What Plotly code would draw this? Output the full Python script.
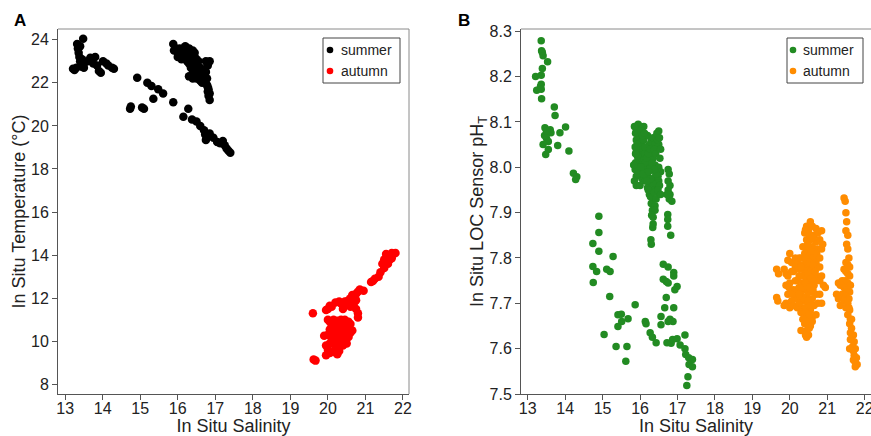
import plotly.graph_objects as go

# ---------------- Panel A: salinity vs temperature ----------------
a_summer_sal = [13.48, 13.32, 13.34, 13.36, 13.38, 13.40, 13.40, 13.42, 13.45, 13.45, 13.50, 13.50,
                13.21, 13.25, 13.30, 13.60, 13.67, 13.70, 13.80, 13.75, 13.85, 13.90, 13.95, 14.01,
                14.10, 14.15, 14.25, 14.30,
                15.88, 15.95, 15.90, 16.00, 16.05, 16.10, 16.15, 16.20, 16.25, 16.30, 16.35, 16.40,
                16.20, 16.25, 16.30, 16.35, 16.40, 16.45, 16.50, 16.55, 16.60, 16.65, 16.50, 16.45,
                16.55, 16.60, 16.40, 16.30, 16.70, 16.75, 16.80, 16.85, 16.75, 16.80, 16.80, 16.82,
                16.85, 16.78, 16.85, 16.10, 16.00,
                16.05, 16.10, 16.20, 16.30, 16.35, 16.40, 16.45, 16.50, 16.55, 16.60, 16.65, 16.40,
                16.50, 16.60, 16.00, 16.30, 16.45, 16.50, 16.70, 16.78, 16.82,
                14.92, 15.19, 15.30, 15.48, 15.61, 15.35, 14.73, 14.75, 15.05, 15.10, 15.88, 16.28,
                16.15, 16.38, 16.50, 16.60, 16.70, 16.73, 16.80, 16.95, 17.13, 17.25, 17.40, 17.30,
                17.20, 16.75, 16.85, 17.05, 17.35]
a_summer_temp = [24.05, 23.80, 23.60, 23.40, 23.20, 23.70, 23.00, 22.85, 23.10, 22.75, 22.70, 22.90,
                 22.65, 22.60, 22.70, 23.00, 23.16, 23.10, 23.20, 22.90, 22.80, 22.55, 22.47, 23.00,
                 22.90, 22.80, 22.70, 22.65,
                 23.80, 23.60, 23.50, 23.40, 23.30, 23.50, 23.60, 23.70, 23.60, 23.50, 23.40, 23.50,
                 23.20, 23.00, 22.90, 22.70, 22.60, 22.50, 22.40, 22.30, 22.10, 22.00, 22.80, 23.20,
                 23.00, 22.70, 22.20, 22.30, 22.30, 22.50, 22.80, 23.00, 23.00, 21.80, 21.60, 21.40,
                 21.20, 21.90, 21.50, 23.10, 23.20,
                 23.60, 23.30, 23.40, 23.20, 23.10, 22.90, 22.70, 22.60, 22.50, 22.40, 22.30, 22.40,
                 22.20, 22.25, 23.50, 23.60, 23.40, 23.10, 22.60, 22.20, 21.70,
                 22.24, 22.00, 21.85, 21.70, 21.50, 21.26, 20.80, 20.90, 20.85, 20.80, 21.10, 20.80,
                 20.42, 20.30, 20.20, 20.00, 19.80, 19.60, 19.50, 19.45, 19.20, 19.10, 18.75, 18.95,
                 19.30, 19.35, 19.65, 19.25, 18.85]

a_autumn_sal = [21.80, 21.75, 21.70, 21.65, 21.60, 21.55, 21.50, 21.45, 21.55, 21.65, 21.70, 21.60,
                21.50, 21.40, 21.35, 21.25, 21.15, 21.20,
                20.95, 20.85, 20.80, 20.75, 20.65, 20.60, 20.55, 20.45, 20.35, 20.30, 20.20, 20.10,
                20.00, 19.95, 20.05, 20.50, 20.60, 20.70, 20.75, 20.80, 20.80, 20.75, 20.40,
                20.00, 20.05, 20.15, 20.25, 20.35, 20.45, 20.55, 20.60, 20.10, 20.20, 20.30, 20.40,
                20.50, 20.60, 20.65, 20.15, 20.25, 20.35, 20.45, 20.55, 20.00, 19.90, 20.10, 20.20,
                20.30, 20.40, 20.50, 20.30, 20.05, 19.95, 20.00, 20.05, 20.15, 20.30, 20.40, 20.25,
                19.95, 20.20, 20.45, 20.55, 20.30, 20.40, 20.15, 20.05,
                19.60, 19.62, 19.67]
a_autumn_temp = [14.10, 14.05, 14.10, 14.00, 13.90, 14.05, 13.80, 13.60, 13.70, 13.80, 13.85, 13.60,
                 13.40, 13.20, 13.00, 12.90, 12.75, 12.80,
                 12.35, 12.40, 12.30, 12.20, 12.15, 12.00, 11.90, 11.85, 11.75, 11.85, 11.80, 11.60,
                 11.50, 11.45, 11.65, 11.70, 11.60, 11.80, 11.50, 11.30, 11.10, 11.90, 11.50,
                 11.00, 10.90, 11.00, 10.95, 11.00, 11.00, 10.90, 10.80, 10.70, 10.60, 10.70, 10.60,
                 10.50, 10.40, 10.50, 10.40, 10.30, 10.40, 10.30, 10.20, 10.30, 10.25, 10.10, 10.00,
                 10.10, 10.00, 9.90, 9.80, 9.90, 9.80, 9.60, 9.45, 9.50, 9.55, 9.80, 9.40,
                 9.35, 9.70, 10.80, 10.60, 10.50, 10.20, 10.20, 10.55,
                 11.30, 9.15, 9.10]

# ---------------- Panel B: salinity vs LOC sensor pH ----------------
b_summer_sal = [13.36, 13.37, 13.39, 13.41, 13.53, 13.39, 13.21, 13.36, 13.36, 13.34, 13.24, 13.36,
                13.37, 13.71, 13.73, 13.46, 13.60, 13.62, 13.86, 14.01, 13.50, 13.55, 13.41, 13.80,
                13.55, 13.48, 14.10, 14.22, 14.31, 14.28, 13.45, 13.50,
                15.95, 16.00, 16.05, 15.90, 15.95, 16.00, 15.90, 16.05, 15.95, 16.00, 15.90, 16.05,
                15.95, 16.00, 15.88, 16.05, 15.95, 16.00, 15.90, 16.05, 15.85, 15.90, 16.00, 16.10,
                16.10, 16.10, 16.10,
                16.20, 16.30, 16.35, 16.25, 16.40, 16.20, 16.30, 16.45, 16.25, 16.35, 16.20, 16.40,
                16.30, 16.45, 16.20, 16.35, 16.25, 16.40, 16.30, 16.45, 16.25, 16.35, 16.30, 16.40,
                16.50, 16.50, 16.50, 16.50, 16.20, 16.15, 16.45,
                15.85, 15.88, 15.92, 15.87, 15.93, 15.88, 15.92, 15.87, 15.95, 15.83, 16.02, 16.07,
                16.02, 16.08, 16.03, 16.08, 16.12, 16.13, 16.13, 16.14, 16.18, 16.22, 16.27, 16.28,
                16.32, 16.38, 16.42, 16.47, 16.52, 16.55, 16.53, 16.55, 16.52, 16.48, 16.42, 16.38,
                16.33, 16.28, 16.23, 16.18, 16.22, 16.28, 16.38, 16.43, 16.48, 16.55, 16.33, 16.40,
                16.75, 16.78, 16.75, 16.80, 16.75, 16.80, 16.78, 16.85, 16.72,
                16.31, 16.35, 16.34, 16.35, 16.29, 16.30, 16.74, 16.74, 16.74, 16.82,
                14.90, 14.90, 14.74, 14.90, 15.28,
                14.74, 14.84, 15.11, 15.20, 14.75, 15.19, 15.87, 15.41, 15.50, 15.51, 15.68, 15.41,
                15.04, 15.36, 15.65, 15.62, 16.14, 16.16, 16.27, 16.33, 16.43, 16.62, 16.75, 16.90,
                16.90, 16.62, 16.70, 16.75, 16.99, 16.93, 16.70, 16.66, 16.90, 16.56, 16.80, 16.88,
                16.75, 16.56, 16.72, 16.83, 16.87, 16.99, 17.20, 17.07, 17.20, 17.22, 17.30, 17.40,
                17.31, 17.40, 17.28, 17.25]
b_summer_ph = [8.279, 8.257, 8.253, 8.246, 8.233, 8.218, 8.200, 8.203, 8.183, 8.178, 8.170, 8.172,
               8.151, 8.133, 8.114, 8.087, 8.083, 8.076, 8.076, 8.089, 8.064, 8.057, 8.050, 8.048,
               8.039, 8.028, 8.036, 7.987, 7.979, 7.973, 8.070, 8.080,
               8.095, 8.090, 8.085, 8.080, 8.070, 8.065, 8.060, 8.055, 8.050, 8.040, 8.035, 8.030,
               8.020, 8.015, 8.010, 8.005, 8.000, 7.990, 7.980, 7.975, 7.970, 7.960, 7.960, 8.090,
               8.060, 8.020, 7.990,
               8.070, 8.060, 8.065, 8.050, 8.050, 8.040, 8.035, 8.040, 8.020, 8.020, 8.000, 8.005,
               7.995, 7.990, 7.980, 7.975, 7.965, 7.960, 7.950, 7.945, 7.940, 7.930, 7.920, 7.915,
               8.080, 8.050, 8.000, 7.970, 7.955, 8.010, 8.075,
               8.090, 8.075, 8.050, 8.045, 8.025, 8.030, 8.000, 7.995, 7.985, 8.005, 8.080, 8.070,
               8.045, 8.040, 8.000, 7.985, 8.075, 8.045, 8.030, 7.970, 8.020, 8.030, 8.040, 8.000,
               8.010, 8.040, 8.030, 8.060, 8.065, 8.040, 8.020, 7.990, 7.960, 7.980, 7.985, 7.995,
               7.965, 7.975, 7.990, 7.970, 7.950, 7.935, 7.945, 7.930, 7.950, 7.940, 7.905, 7.905,
               7.995, 7.985, 7.970, 7.960, 7.950, 7.940, 7.930, 7.925, 7.940,
               7.894, 7.890, 7.867, 7.875, 7.840, 7.830, 7.896, 7.885, 7.870, 7.850,
               7.892, 7.856, 7.832, 7.815, 7.803,
               7.781, 7.770, 7.775, 7.770, 7.746, 7.715, 7.697, 7.675, 7.676, 7.660, 7.666, 7.649,
               7.631, 7.605, 7.605, 7.572, 7.660, 7.655, 7.635, 7.625, 7.613, 7.786, 7.780, 7.768,
               7.760, 7.753, 7.748, 7.745, 7.737, 7.730, 7.713, 7.690, 7.690, 7.671, 7.665, 7.660,
               7.660, 7.653, 7.613, 7.612, 7.620, 7.622, 7.630, 7.608, 7.600, 7.587, 7.580, 7.576,
               7.565, 7.560, 7.538, 7.519]

b_autumn_sal = [21.45, 21.48, 21.50, 21.52, 21.50, 21.55, 21.52, 21.55, 21.58, 21.50, 21.55, 21.60,
                21.45, 21.50, 21.55, 21.60, 21.40, 21.48, 21.55, 21.62, 21.30, 21.35, 21.45, 21.52,
                21.60, 21.25, 21.40, 21.50, 21.58, 21.30, 21.45, 21.55, 21.35, 21.50, 21.60, 21.55,
                21.62, 21.60, 21.65, 21.62, 21.70, 21.65, 21.72, 21.68, 21.75, 21.70, 21.72, 21.78,
                21.70, 21.75, 21.80, 21.75, 21.62, 21.60, 21.65, 21.58,
                19.65, 19.70, 19.65, 19.68, 19.85, 19.90, 19.95, 20.00, 19.95, 19.90, 19.95, 19.90,
                20.00, 20.05, 19.85, 20.10, 20.00, 20.10, 20.05, 20.15, 20.15, 20.10, 20.20,
                20.20, 20.25, 20.15, 20.05, 20.20, 20.15, 20.05, 19.98, 20.20, 20.30,
                20.45, 20.55, 20.60, 20.70, 20.50, 20.40, 20.65, 20.75, 20.45, 20.55, 20.70, 20.35,
                20.50, 20.60, 20.75, 20.40, 20.55, 20.65, 20.30, 20.45, 20.70, 20.35, 20.50, 20.60,
                20.25, 20.40, 20.55, 20.70, 20.30, 20.45, 20.60, 20.35, 20.50, 20.65, 20.25, 20.40,
                20.55, 20.70, 20.30, 20.45, 20.60, 20.35, 20.50, 20.65, 20.40, 20.55, 20.30, 20.45,
                20.60, 20.35, 20.50, 20.40, 20.55, 20.45, 20.30, 20.50, 20.45, 20.60, 20.25, 20.20,
                20.42, 20.52, 20.62, 20.48, 20.58, 20.42, 20.52, 20.62, 20.38, 20.48, 20.58, 20.68,
                20.32, 20.42, 20.52, 20.62, 20.38, 20.48, 20.58, 20.42, 20.52, 20.45, 20.52, 20.42,
                20.25, 20.30, 20.25, 20.72, 20.75, 20.68,
                20.80, 20.85, 20.80, 20.85, 20.80, 20.85, 20.90, 20.80, 20.85, 20.95, 20.80, 20.88,
                20.75, 20.70]
b_autumn_ph = [7.932, 7.925, 7.900, 7.880, 7.860, 7.850, 7.830, 7.820, 7.800, 7.790, 7.785, 7.780,
               7.775, 7.770, 7.765, 7.760, 7.750, 7.750, 7.745, 7.740, 7.745, 7.740, 7.735, 7.730,
               7.725, 7.720, 7.720, 7.715, 7.710, 7.710, 7.705, 7.700, 7.695, 7.690, 7.685, 7.675,
               7.665, 7.655, 7.645, 7.635, 7.630, 7.620, 7.615, 7.605, 7.600, 7.595, 7.585, 7.580,
               7.575, 7.570, 7.565, 7.560, 7.620, 7.600, 7.665, 7.690,
               7.775, 7.765, 7.713, 7.705, 7.775, 7.765, 7.795, 7.810, 7.760, 7.740, 7.720, 7.700,
               7.690, 7.705, 7.695, 7.730, 7.745, 7.770, 7.790, 7.800, 7.750, 7.695, 7.710,
               7.790, 7.800, 7.780, 7.770, 7.730, 7.715, 7.720, 7.735, 7.690, 7.690,
               7.870, 7.880, 7.870, 7.865, 7.860, 7.855, 7.850, 7.855, 7.840, 7.840, 7.835, 7.825,
               7.820, 7.825, 7.820, 7.810, 7.805, 7.800, 7.800, 7.795, 7.790, 7.785, 7.780, 7.775,
               7.775, 7.770, 7.765, 7.760, 7.760, 7.755, 7.750, 7.745, 7.740, 7.740, 7.735, 7.730,
               7.725, 7.720, 7.720, 7.715, 7.710, 7.705, 7.700, 7.695, 7.690, 7.685, 7.680, 7.675,
               7.670, 7.665, 7.660, 7.655, 7.650, 7.640, 7.640, 7.630, 7.625, 7.660, 7.700, 7.750,
               7.862, 7.852, 7.845, 7.830, 7.815, 7.800, 7.790, 7.785, 7.760, 7.765, 7.755, 7.750,
               7.735, 7.745, 7.735, 7.730, 7.710, 7.705, 7.695, 7.680, 7.675, 7.660, 7.645, 7.630,
               7.760, 7.780, 7.720, 7.810, 7.780, 7.770,
               7.780, 7.820, 7.840, 7.860, 7.800, 7.760, 7.740, 7.720, 7.700, 7.735, 7.750, 7.830,
               7.700, 7.675]

x_ticks = [13, 14, 15, 16, 17, 18, 19, 20, 21, 22]
a_y_ticks = [8, 10, 12, 14, 16, 18, 20, 22, 24]
b_y_ticks = [7.5, 7.6, 7.7, 7.8, 7.9, 8.0, 8.1, 8.2, 8.3]
season_labels = ["summer", "autumn"]
a_colors = ["black", "#ff0000"]
b_colors = ["#228B22", "#FF8C00"]

FONT = "Liberation Sans, Arial, sans-serif"
TXT = "#222222"
W, H = 871, 436


def fx(px):
    return px / W


def fy(py):
    return 1 - py / H


fig = go.Figure()
fig.add_trace(go.Scatter(x=a_summer_sal, y=a_summer_temp, mode="markers", name=season_labels[0],
                         marker=dict(color=a_colors[0], size=8.5), xaxis="x", yaxis="y"))
fig.add_trace(go.Scatter(x=a_autumn_sal, y=a_autumn_temp, mode="markers", name=season_labels[1],
                         marker=dict(color=a_colors[1], size=8.5), xaxis="x", yaxis="y"))
fig.add_trace(go.Scatter(x=b_summer_sal, y=b_summer_ph, mode="markers", name=season_labels[0],
                         marker=dict(color=b_colors[0], size=7.5), xaxis="x2", yaxis="y2"))
fig.add_trace(go.Scatter(x=b_autumn_sal, y=b_autumn_ph, mode="markers", name=season_labels[1],
                         marker=dict(color=b_colors[1], size=7.5), xaxis="x2", yaxis="y2"))

axis_common = dict(showline=True, linecolor="#555555", linewidth=1, ticks="outside", ticklen=5,
                   tickcolor="#555555", showgrid=False, zeroline=False, automargin=False,
                   ticklabeloverflow="allow",
                   tickfont=dict(family=FONT, size=16, color=TXT))
title_font = dict(size=18, family=FONT, color=TXT)

y_dom = [fy(394), fy(29)]

shapes = [
    # light top/right frame lines
    dict(type="line", xref="x domain", yref="y domain", x0=0, x1=1, y0=1, y1=1,
         line=dict(color="#8a8a8a", width=1)),
    dict(type="line", xref="x domain", yref="y domain", x0=1, x1=1, y0=0, y1=1,
         line=dict(color="#8a8a8a", width=1)),
    dict(type="line", xref="x2 domain", yref="y2 domain", x0=0, x1=1, y0=1, y1=1,
         line=dict(color="#8a8a8a", width=1)),
]
annotations = [
    dict(text="<b>A</b>", x=fx(20), y=fy(21), xref="paper", yref="paper", showarrow=False,
         font=dict(family=FONT, size=17, color="black"), xanchor="center", yanchor="middle"),
    dict(text="<b>B</b>", x=fx(464), y=fy(21), xref="paper", yref="paper", showarrow=False,
         font=dict(family=FONT, size=17, color="black"), xanchor="center", yanchor="middle"),
]

# legend boxes drawn as shapes + text (box left, box right, marker x, text x)
for (bl, br, mx, tx), cols in [((323, 400, 330, 339), a_colors), ((787, 863, 793, 801), b_colors)]:
    shapes.append(dict(type="rect", xref="paper", yref="paper", x0=fx(bl), x1=fx(br),
                       y0=fy(83), y1=fy(38), line=dict(color="#444444", width=1), fillcolor="white",
                       layer="above"))
    for i, (lab, col) in enumerate(zip(season_labels, cols)):
        cy = 50 + 21 * i
        shapes.append(dict(type="circle", xref="paper", yref="paper", x0=fx(mx - 3.3), x1=fx(mx + 3.3),
                           y0=fy(cy + 3.3), y1=fy(cy - 3.3), fillcolor=col, line=dict(width=0),
                           layer="above"))
        annotations.append(dict(text=lab, x=fx(tx), y=fy(cy), xref="paper", yref="paper",
                                showarrow=False, xanchor="left", yanchor="middle",
                                font=dict(family=FONT, size=14, color=TXT)))

fig.update_layout(
    width=W, height=H, template="none",
    paper_bgcolor="white", plot_bgcolor="white",
    margin=dict(l=0, r=0, t=0, b=0, pad=0),
    font=dict(family=FONT, color=TXT),
    showlegend=False,
    xaxis=dict(domain=[fx(58), fx(409)], range=[12.81, 22.16], tickvals=x_ticks,
               ticklabelstandoff=-5,
               title=dict(text="In Situ Salinity", font=title_font, standoff=2),
               mirror=False, anchor="y", **axis_common),
    yaxis=dict(domain=y_dom, range=[7.55, 24.5], tickvals=a_y_ticks,
               title=dict(text="In Situ Temperature (°C)", font=title_font, standoff=0),
               mirror=False, anchor="x", **axis_common),
    xaxis2=dict(domain=[fx(521), 1], range=[12.82, 22.17], tickvals=x_ticks,
                ticklabelstandoff=-5,
                title=dict(text="In Situ Salinity", font=title_font, standoff=2),
                mirror=False, anchor="y2", **axis_common),
    yaxis2=dict(domain=y_dom, range=[7.5, 8.305], tickvals=b_y_ticks, tickformat=".1f",
                title=dict(text="In Situ LOC Sensor pH<sub>T</sub>", font=title_font, standoff=0),
                mirror=False, anchor="x2", **axis_common),
    annotations=annotations,
    shapes=shapes,
)

fig.write_html("out.html", config={"displayModeBar": False},
               post_script="document.body.style.margin='0';")
